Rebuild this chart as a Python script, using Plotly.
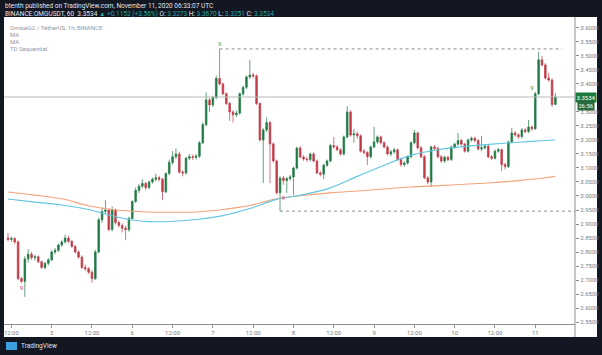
import pandas as pd
import plotly.graph_objects as go

# ---------------- data ----------------
times = pd.date_range("2020-11-04 11:00", periods=164, freq="h")

opens = [2.850, 2.845, 2.848, 2.836, 2.705, 2.695, 2.775, 2.792, 2.780, 2.783,
         2.765, 2.745, 2.760, 2.772, 2.800, 2.806, 2.825, 2.836, 2.850, 2.838,
         2.820, 2.800, 2.782, 2.745, 2.740, 2.728, 2.705, 2.800, 2.915, 2.945,
         2.950, 2.880, 2.950, 2.905, 2.895, 2.885, 2.880, 2.920, 2.980, 3.020,
         3.035, 3.045, 3.030, 3.050, 3.060, 3.065, 3.060, 3.015, 3.080, 3.120,
         3.140, 3.150, 3.085, 3.082, 3.135, 3.140, 3.138, 3.142, 3.190, 3.255,
         3.343, 3.325, 3.352, 3.420, 3.400, 3.365, 3.330, 3.300, 3.290, 3.296,
         3.365, 3.388, 3.425, 3.432, 3.428, 3.330, 3.200, 3.236, 3.262, 3.186,
         3.125, 3.012, 3.064, 3.055, 3.062, 3.068, 3.100, 3.171, 3.139, 3.132,
         3.130, 3.150, 3.125, 3.082, 3.078, 3.110, 3.125, 3.180, 3.175, 3.165,
         3.150, 3.211, 3.300, 3.218, 3.222, 3.215, 3.160, 3.155, 3.140, 3.175,
         3.193, 3.211, 3.190, 3.175, 3.150, 3.158, 3.165, 3.130, 3.112, 3.118,
         3.140, 3.190, 3.225, 3.172, 3.140, 3.065, 3.050, 3.175, 3.170, 3.140,
         3.125, 3.138, 3.130, 3.175, 3.185, 3.198, 3.185, 3.160, 3.200, 3.206,
         3.198, 3.168, 3.172, 3.178, 3.140, 3.135, 3.160, 3.165, 3.112, 3.105,
         3.193, 3.225, 3.218, 3.212, 3.236, 3.230, 3.246, 3.240, 3.365, 3.486,
         3.468, 3.421, 3.414, 3.327]

highs = [2.868, 2.856, 2.853, 2.842, 2.712, 2.785, 2.810, 2.800, 2.790, 2.788,
         2.770, 2.765, 2.778, 2.806, 2.815, 2.830, 2.842, 2.862, 2.858, 2.843,
         2.825, 2.806, 2.788, 2.755, 2.746, 2.735, 2.808, 2.922, 2.960, 2.985,
         2.956, 2.962, 2.955, 2.912, 2.902, 2.893, 2.926, 2.985, 3.030, 3.042,
         3.060, 3.050, 3.056, 3.066, 3.080, 3.072, 3.064, 3.085, 3.130, 3.160,
         3.170, 3.158, 3.092, 3.140, 3.150, 3.148, 3.150, 3.196, 3.262, 3.370,
         3.350, 3.358, 3.430, 3.525, 3.405, 3.370, 3.336, 3.306, 3.305, 3.370,
         3.394, 3.430, 3.486, 3.440, 3.434, 3.335, 3.242, 3.280, 3.268, 3.192,
         3.130, 3.070, 3.072, 3.068, 3.075, 3.105, 3.176, 3.178, 3.146, 3.140,
         3.155, 3.156, 3.130, 3.090, 3.115, 3.130, 3.186, 3.211, 3.182, 3.170,
         3.216, 3.320, 3.306, 3.240, 3.230, 3.220, 3.168, 3.160, 3.180, 3.247,
         3.216, 3.216, 3.195, 3.180, 3.165, 3.172, 3.170, 3.136, 3.124, 3.145,
         3.196, 3.236, 3.230, 3.178, 3.146, 3.070, 3.180, 3.182, 3.176, 3.146,
         3.144, 3.144, 3.180, 3.190, 3.225, 3.204, 3.190, 3.205, 3.212, 3.212,
         3.204, 3.215, 3.184, 3.184, 3.146, 3.166, 3.172, 3.170, 3.118, 3.198,
         3.243, 3.232, 3.224, 3.242, 3.242, 3.271, 3.252, 3.372, 3.515, 3.500,
         3.474, 3.440, 3.420, 3.367]

lows = [2.838, 2.836, 2.828, 2.700, 2.688, 2.640, 2.762, 2.772, 2.770, 2.760,
        2.740, 2.738, 2.752, 2.768, 2.792, 2.800, 2.818, 2.830, 2.832, 2.815,
        2.795, 2.776, 2.740, 2.732, 2.722, 2.690, 2.700, 2.795, 2.905, 2.935,
        2.874, 2.874, 2.898, 2.888, 2.870, 2.842, 2.872, 2.915, 2.975, 3.010,
        3.028, 3.022, 3.024, 3.044, 3.052, 3.052, 2.985, 3.010, 3.074, 3.112,
        3.132, 3.080, 3.070, 3.076, 3.128, 3.128, 3.130, 3.136, 3.185, 3.248,
        3.300, 3.318, 3.345, 3.395, 3.360, 3.325, 3.268, 3.262, 3.282, 3.290,
        3.358, 3.382, 3.418, 3.420, 3.325, 3.195, 3.046, 3.228, 3.046, 3.120,
        3.005, 2.946, 3.040, 3.011, 3.055, 3.004, 3.095, 3.134, 3.126, 3.122,
        3.124, 3.120, 3.078, 3.070, 3.060, 3.104, 3.120, 3.170, 3.160, 3.144,
        3.144, 3.205, 3.212, 3.190, 3.205, 3.155, 3.148, 3.110, 3.134, 3.170,
        3.186, 3.184, 3.170, 3.145, 3.142, 3.150, 3.125, 3.105, 3.104, 3.112,
        3.134, 3.184, 3.166, 3.134, 3.060, 3.042, 3.032, 3.164, 3.134, 3.118,
        3.118, 3.124, 3.125, 3.168, 3.180, 3.180, 3.155, 3.155, 3.194, 3.192,
        3.162, 3.160, 3.166, 3.135, 3.128, 3.130, 3.154, 3.090, 3.095, 3.100,
        3.188, 3.212, 3.205, 3.206, 3.224, 3.224, 3.232, 3.236, 3.360, 3.462,
        3.416, 3.408, 3.318, 3.325]

closes = [2.845, 2.848, 2.836, 2.705, 2.695, 2.775, 2.792, 2.780, 2.783, 2.765,
          2.745, 2.760, 2.772, 2.800, 2.806, 2.825, 2.836, 2.850, 2.838, 2.820,
          2.800, 2.782, 2.745, 2.740, 2.728, 2.705, 2.800, 2.915, 2.945, 2.950,
          2.880, 2.950, 2.905, 2.895, 2.885, 2.880, 2.920, 2.980, 3.020, 3.035,
          3.045, 3.030, 3.050, 3.060, 3.065, 3.060, 3.015, 3.080, 3.120, 3.140,
          3.150, 3.085, 3.082, 3.135, 3.140, 3.138, 3.142, 3.190, 3.255, 3.343,
          3.325, 3.352, 3.420, 3.400, 3.365, 3.330, 3.300, 3.290, 3.296, 3.365,
          3.388, 3.425, 3.432, 3.428, 3.330, 3.200, 3.236, 3.262, 3.186, 3.125,
          3.012, 3.064, 3.055, 3.062, 3.068, 3.100, 3.171, 3.139, 3.132, 3.130,
          3.150, 3.125, 3.082, 3.078, 3.110, 3.125, 3.180, 3.175, 3.165, 3.150,
          3.211, 3.300, 3.218, 3.222, 3.215, 3.160, 3.155, 3.140, 3.175, 3.193,
          3.211, 3.190, 3.175, 3.150, 3.158, 3.165, 3.130, 3.112, 3.118, 3.140,
          3.190, 3.225, 3.172, 3.140, 3.065, 3.050, 3.175, 3.170, 3.140, 3.125,
          3.138, 3.130, 3.175, 3.185, 3.198, 3.185, 3.160, 3.200, 3.206, 3.198,
          3.168, 3.172, 3.178, 3.140, 3.135, 3.160, 3.165, 3.112, 3.105, 3.193,
          3.225, 3.218, 3.212, 3.236, 3.230, 3.246, 3.240, 3.365, 3.486, 3.468,
          3.421, 3.414, 3.327, 3.3534]

# moving averages sampled at candle indices
ma_index = [0, 8, 16, 24, 32, 40, 48, 56, 64, 72, 80, 88, 96, 104, 112, 120,
            128, 136, 144, 152, 160, 163]
ma_orange = [3.014, 3.003, 2.990, 2.965, 2.950, 2.944, 2.942, 2.943, 2.952, 2.966,
             2.990, 3.002, 3.011, 3.018, 3.025, 3.032, 3.037, 3.042, 3.047, 3.055,
             3.065, 3.070]
ma_blue = [2.989, 2.978, 2.968, 2.952, 2.926, 2.910, 2.909, 2.916, 2.930, 2.955,
           2.988, 3.005, 3.029, 3.070, 3.110, 3.145, 3.165, 3.177, 3.185, 3.192,
           3.198, 3.201]

# TD sequential markers
td_index = [4, 63, 82, 156]
td_price = [2.668, 3.540, 2.992, 3.385]
td_label = ["9", "9", "9", "9"]
td_color = ["#e04050", "#2e9e5a", "#e04050", "#2e9e5a"]

last_price = 3.3534
range_high = 3.525
range_low = 2.946

ytick_vals = [2.55, 2.60, 2.65, 2.70, 2.75, 2.80, 2.85, 2.90, 2.95, 3.00, 3.05,
              3.10, 3.15, 3.20, 3.25, 3.30, 3.35, 3.40, 3.45, 3.50, 3.55, 3.60]
ytick_text = ["2.5500", "2.6000", "2.6500", "2.7000", "2.7500", "2.8000", "2.8500",
              "2.9000", "2.9500", "3.0000", "3.0500", "3.1000", "3.1500", "3.2000",
              "3.2500", "3.3000", "", "3.4000", "3.4500", "3.5000", "3.5500", "3.6000"]
xtick_vals = ["2020-11-04 12:00", "2020-11-05 00:00", "2020-11-05 12:00",
              "2020-11-06 00:00", "2020-11-06 12:00", "2020-11-07 00:00",
              "2020-11-07 12:00", "2020-11-08 00:00", "2020-11-08 12:00",
              "2020-11-09 00:00", "2020-11-09 12:00", "2020-11-10 00:00",
              "2020-11-10 12:00", "2020-11-11 00:00"]
xtick_text = ["12:00", "5", "12:00", "6", "12:00", "7", "12:00", "8", "12:00",
              "9", "12:00", "10", "12:00", "11"]

# ---------------- styling ----------------
W, H = 602, 355
ML, MR, MT, MB = 4, 27, 17, 31
PW, PH = W - ML - MR, H - MT - MB
UP, DOWN = "#1f7a45", "#c23b47"
DARK = "#131722"
FONT = "Roboto"


def px_x(px):
    return (px - ML) / PW


def px_y(py):
    return (H - MB - py) / PH


fig = go.Figure()
fig.add_trace(go.Candlestick(
    x=times, open=opens, high=highs, low=lows, close=closes,
    increasing=dict(line=dict(color=UP, width=0.7), fillcolor=UP),
    decreasing=dict(line=dict(color=DOWN, width=0.7), fillcolor=DOWN),
    whiskerwidth=0, showlegend=False, hoverinfo="skip"))

ma_x = [times[i] for i in ma_index]
fig.add_trace(go.Scatter(x=ma_x, y=ma_orange, mode="lines", showlegend=False,
                         line=dict(color="#f4a27a", width=1.1, shape="spline"),
                         hoverinfo="skip"))
fig.add_trace(go.Scatter(x=ma_x, y=ma_blue, mode="lines", showlegend=False,
                         line=dict(color="#62c6e0", width=1.1, shape="spline"),
                         hoverinfo="skip"))

fig.add_trace(go.Scatter(x=[times[i] for i in td_index], y=td_price, mode="text",
                         text=td_label, showlegend=False, hoverinfo="skip",
                         textfont=dict(size=6, color=td_color, family=FONT)))

x_end = "2020-11-11 11:50"
shapes = [
    # white chart canvas
    dict(type="rect", xref="paper", yref="paper", x0=px_x(4), x1=px_x(597),
         y0=px_y(337), y1=px_y(17), fillcolor="white", line=dict(width=0),
         layer="below"),
    # right separator line
    dict(type="line", xref="paper", yref="paper", x0=1, x1=1, y0=px_y(337), y1=1,
         line=dict(color="#8a8e97", width=1)),
    # last price line
    dict(type="line", xref="paper", yref="y", x0=0, x1=1, y0=last_price, y1=last_price,
         line=dict(color="#b8b8b8", width=1)),
    # dotted range lines
    dict(type="line", xref="x", yref="y", x0=times[63], x1="2020-11-11 08:00",
         y0=range_high, y1=range_high, line=dict(color="#8c8c8c", width=1, dash="dot")),
    dict(type="line", xref="x", yref="y", x0=times[81], x1=x_end,
         y0=range_low, y1=range_low, line=dict(color="#8c8c8c", width=1, dash="dot")),
    # footer logo
    dict(type="rect", xref="paper", yref="paper", x0=px_x(6), x1=px_x(17),
         y0=px_y(350), y1=px_y(342), fillcolor="#3c9fe0", line=dict(width=0)),
]

up_col = "#26a69a"
header2 = ("BINANCE:OMGUSDT, 60  3.3534 <span style='color:%s'>▲ +0.1152 (+3.56%%)</span> "
           "O: <span style='color:%s'>3.3273</span> H: <span style='color:%s'>3.3670</span> "
           "L: <span style='color:%s'>3.3251</span> C: <span style='color:%s'>3.3534</span>"
           % (up_col, up_col, up_col, up_col, up_col))

annotations = [
    dict(xref="paper", yref="paper", x=px_x(3), y=px_y(6), xanchor="left", yanchor="middle",
         text="btenth published on TradingView.com, November 11, 2020 06:33:07 UTC",
         showarrow=False, font=dict(size=6.5, color="#e0e3eb", family=FONT)),
    dict(xref="paper", yref="paper", x=px_x(3), y=px_y(14), xanchor="left", yanchor="middle",
         text=header2, showarrow=False, font=dict(size=6.5, color="#e0e3eb", family=FONT)),
    dict(xref="paper", yref="paper", x=px_x(8), y=px_y(27), xanchor="left", yanchor="middle",
         text="OmiseGO / TetherUS, 1h, BINANCE", showarrow=False,
         font=dict(size=6, color="#9598a1", family=FONT)),
    dict(xref="paper", yref="paper", x=px_x(8), y=px_y(34.5), xanchor="left", yanchor="middle",
         text="MA", showarrow=False, font=dict(size=6, color="#9598a1", family=FONT)),
    dict(xref="paper", yref="paper", x=px_x(8), y=px_y(41.5), xanchor="left", yanchor="middle",
         text="MA", showarrow=False, font=dict(size=6, color="#9598a1", family=FONT)),
    dict(xref="paper", yref="paper", x=px_x(8), y=px_y(48.5), xanchor="left", yanchor="middle",
         text="TD Sequential", showarrow=False, font=dict(size=6, color="#9598a1", family=FONT)),
    # price box
    dict(xref="paper", yref="y", x=1, y=last_price, xanchor="left", yanchor="middle",
         xshift=0, text="3.3534", showarrow=False, bgcolor="#1d7a3e", borderpad=1,
         font=dict(size=6, color="white", family=FONT), width=18),
    dict(xref="paper", yref="y", x=1, y=last_price, xanchor="left", yanchor="middle",
         xshift=2, yshift=-8, text="26:56", showarrow=False, bgcolor="#2a6b3c", borderpad=1,
         font=dict(size=6, color="white", family=FONT), width=14),
    # footer text
    dict(xref="paper", yref="paper", x=px_x(19), y=px_y(346), xanchor="left", yanchor="middle",
         text="TradingView", showarrow=False, font=dict(size=6.5, color="#e0e3eb", family=FONT)),
]

fig.update_layout(
    width=W, height=H,
    margin=dict(l=ML, r=MR, t=MT, b=MB),
    paper_bgcolor=DARK, plot_bgcolor="white",
    shapes=shapes, annotations=annotations,
    showlegend=False,
    font=dict(family=FONT, size=6, color="#787b86"),
    xaxis=dict(range=["2020-11-04 09:48", x_end], rangeslider=dict(visible=False),
               showgrid=False, zeroline=False, showline=True, linecolor="#8a8e97",
               linewidth=1, ticks="outside", ticklen=3, tickcolor="#8a8e97",
               tickvals=xtick_vals, ticktext=xtick_text,
               tickfont=dict(size=6, color="#787b86", family=FONT)),
    yaxis=dict(range=[2.543, 3.639], side="right", showgrid=False, zeroline=False,
               showline=False, ticks="outside", ticklen=3, tickcolor="#8a8e97",
               tickvals=ytick_vals, ticktext=ytick_text,
               tickfont=dict(size=6, color="#787b86", family=FONT)),
)

fig.write_html("out.html")
